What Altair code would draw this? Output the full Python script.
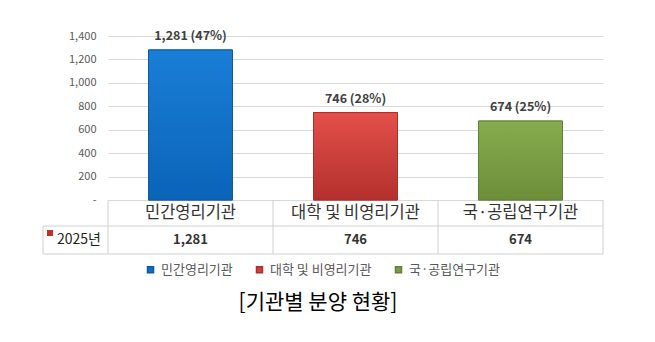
import altair as alt
import pandas as pd

categories = ["민간영리기관", "대학 및 비영리기관", "국·공립연구기관"]
values = [1281, 746, 674]
shares = [47, 28, 25]
colors = ["#0B6FC8", "#D63F3B", "#7A9E43"]
edge_colors = ["#0A5AA6", "#A8302D", "#62803A"]
grad_top = ["#1A7ED6", "#E4504A", "#86AC4E"]
grad_bottom = ["#0A64B8", "#B3302D", "#6C8E39"]
y_ticks = [0, 200, 400, 600, 800, 1000, 1200, 1400]
series_label = "2025년"
caption = "[기관별 분양 현황]"

FONT = "Noto Sans CJK KR"
df = pd.DataFrame({"category": categories, "value": values, "share": shares})

xenc = alt.X("category:N", sort=categories,
             scale=alt.Scale(paddingInner=0, paddingOuter=0), axis=None)
yenc = alt.Y("value:Q", scale=alt.Scale(domain=[0, 1400], nice=False),
             axis=alt.Axis(values=y_ticks, title=None, domain=False, ticks=False,
                           labelOverlap=False, labelPadding=12, labelColor="#595959",
                           labelFontSize=11, labelFont=FONT, gridColor="#D9D9D9",
                           gridWidth=1,
                           labelExpr="datum.value == 0 ? '-' : format(datum.value, ',')"))

base = alt.Chart(df).transform_calculate(
    label="format(datum.value, ',') + ' (' + datum.share + '%)'",
    vfmt="format(datum.value, ',')",
)

bars = base.mark_bar(size=84, strokeWidth=1).encode(
    x=xenc, y=yenc,
    color=alt.Color("category:N", sort=categories,
                    scale=alt.Scale(domain=categories, range=colors),
                    legend=alt.Legend(orient="none", direction="horizontal",
                                      legendX=36, legendY=227, title=None,
                                      symbolType="square", symbolSize=36,
                                      labelFontSize=13, labelColor="#595959",
                                      labelFont=FONT, columnPadding=20)),
    stroke=alt.Stroke("category:N", sort=categories,
                      scale=alt.Scale(domain=categories, range=edge_colors),
                      legend=None),
)

overlays = []
for cat, c1, c2, ce in zip(categories, grad_top, grad_bottom, edge_colors):
    overlays.append(
        base.transform_filter(alt.datum.category == cat).mark_bar(
            size=84, stroke=ce, strokeWidth=1,
            fill=alt.Gradient(gradient="linear", x1=0, x2=0, y1=0, y2=1,
                              stops=[alt.GradientStop(color=c1, offset=0),
                                     alt.GradientStop(color=c2, offset=1)]),
        ).encode(x=xenc, y=yenc)
    )

labels = base.mark_text(dy=-7, baseline="bottom", fontWeight="bold", fontSize=12.5,
                        color="#404040", font=FONT).encode(
    x=xenc, y=yenc, text="label:N")

cat_text = base.mark_text(fontSize=16.5, color="#333333", font=FONT).encode(
    x=xenc, y=alt.value(177), text="category:N")
val_text = base.mark_text(fontSize=13, fontWeight="bold", color="#333333", font=FONT).encode(
    x=xenc, y=alt.value(204), text="vfmt:N")

line_color = "#D0D0D0"
vlines = base.mark_rule(color=line_color, xOffset=-82.5).encode(
    x=xenc, y=alt.value(164), y2=alt.value(218))
vline_right = base.transform_filter(alt.datum.category == categories[-1]).mark_rule(
    color=line_color, xOffset=82.5).encode(x=xenc, y=alt.value(164), y2=alt.value(218))
vline_left = base.transform_filter(alt.datum.category == categories[0]).mark_rule(
    color=line_color, xOffset=-147.5).encode(x=xenc, y=alt.value(190), y2=alt.value(218))

first = base.transform_filter(alt.datum.category == categories[0])
h1 = first.mark_rule(color=line_color).encode(x=alt.value(-65), x2=alt.value(495), y=alt.value(190))
h2 = first.mark_rule(color=line_color).encode(x=alt.value(-65), x2=alt.value(495), y=alt.value(218))

series_sq = first.mark_square(size=36, color="#C0302E", opacity=1).encode(
    x=alt.value(-58), y=alt.value(197))
series_txt = first.mark_text(align="left", fontSize=14, color="#222222", font=FONT,
                             text=series_label).encode(x=alt.value(-51), y=alt.value(204))
cap = first.mark_text(align="center", fontSize=21, color="#000000", font=FONT,
                      text=caption).encode(x=alt.value(210), y=alt.value(267))

chart = alt.layer(bars, *overlays, labels, vlines, vline_right, vline_left, h1, h2,
                  cat_text, val_text, series_sq, series_txt, cap).properties(
    width=495, height=164,
    autosize=alt.AutoSizeParams(type="none"),
    padding={"left": 108, "top": 36, "right": 52, "bottom": 142},
    background="white",
).configure_view(stroke=None)

chart.save("out.html", embed_options={"renderer": "svg", "actions": False})
